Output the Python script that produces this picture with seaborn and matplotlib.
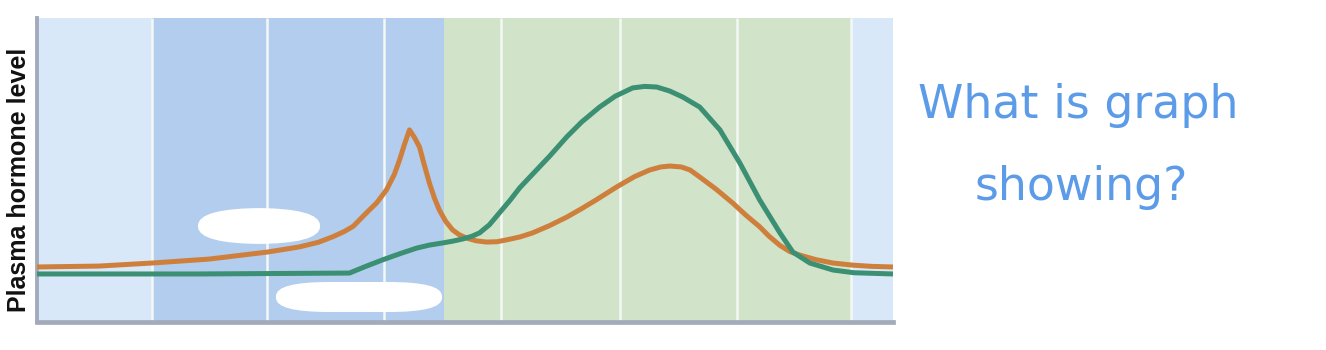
import matplotlib
matplotlib.use("Agg")
import matplotlib.pyplot as plt
from matplotlib.patches import FancyBboxPatch
import seaborn as sns
import pandas as pd

# ---- data ----
# x: day of cycle, y: relative plasma level (0-100)
estrogen_day = [0.0, 2.12, 3.93, 5.88, 7.86, 8.96, 9.6, 10.09, 10.5, 10.8, 11.25, 11.6, 11.93,
                12.2, 12.38, 12.55, 12.72, 12.9, 13.06, 13.23, 13.40, 13.57, 13.74, 13.95,
                14.19, 14.42, 14.67, 15.0, 15.35, 15.7, 16.03, 16.5, 16.92, 17.5, 18.09,
                18.6, 19.1, 19.79, 20.4, 20.92, 21.3, 21.61, 22.0, 22.3, 22.63, 23.2, 23.76,
                24.2, 24.68, 25.0, 25.37, 25.7, 26.05, 26.6, 27.18, 27.86, 28.5, 29.23]
estrogen_lvl = [18.1, 18.4, 19.4, 20.7, 23.0, 24.7, 26.2, 28.0, 29.8, 31.5, 35.9, 39.2, 43.4,
                48.5, 53.3, 58.5, 63.2, 60.5, 57.6, 51.5, 45.7, 40.8, 36.8, 33.2,
                30.3, 28.7, 27.6, 26.7, 26.3, 26.4, 27.0, 28.0, 29.3, 31.7, 34.5,
                37.3, 40.2, 44.4, 47.8, 50.0, 51.0, 51.3, 51.0, 50.0, 47.7, 43.6, 39.1,
                35.2, 31.3, 28.2, 25.2, 23.2, 22.0, 20.5, 19.4, 18.7, 18.3, 18.1]

progesterone_day = [0.0, 5.54, 10.67, 11.2, 11.79, 12.4, 12.96, 13.4, 13.85, 14.2, 14.53,
                    14.85, 15.11, 15.45, 15.79, 16.15, 16.48, 16.92, 17.5, 18.09, 18.6,
                    19.21, 19.75, 20.34, 20.75, 21.16, 21.6, 22.05, 22.63, 23.32, 24.0,
                    24.68, 25.37, 25.81, 26.39, 27.18, 27.9, 29.23]
progesterone_lvl = [15.8, 15.8, 16.1, 18.2, 20.4, 22.5, 24.3, 25.3, 26.0, 26.6, 27.3,
                    28.2, 29.3, 32.0, 35.9, 40.0, 44.1, 48.6, 54.5, 60.9, 65.8,
                    70.7, 74.3, 77.0, 77.5, 77.3, 76.0, 74.0, 70.7, 63.2, 52.3,
                    40.1, 29.3, 23.0, 19.4, 17.1, 16.2, 15.8]

band_edges = [0.0, 3.93, 13.9, 27.8, 29.23]
band_colors = ["#d9e8f8", "#b2cded", "#d1e3c9", "#d9e8f8"]
grid_days = [3.93, 7.86, 11.86, 15.86, 19.9, 23.9, 27.8]

y_label = "Plasma hormone level"
note_line1 = "What is graph"
note_line2 = "showing?"

# ---- figure ----
sns.set_theme(style="white")
plt.rcParams["font.family"] = ["Liberation Sans", "DejaVu Sans"]

fig = plt.figure(figsize=(13.26, 3.5), dpi=100)
ax = fig.add_axes([37 / 1326, 1 - 322 / 350, (893 - 37) / 1326, (322 - 18) / 350])

for i in range(len(band_colors)):
    ax.axvspan(band_edges[i], band_edges[i + 1], color=band_colors[i], lw=0, zorder=0)
for d in grid_days:
    ax.axvline(d, color="#f4f8f4", lw=1.8, zorder=1)

df_e = pd.DataFrame({"day": estrogen_day, "level": estrogen_lvl})
df_p = pd.DataFrame({"day": progesterone_day, "level": progesterone_lvl})
sns.lineplot(data=df_e, x="day", y="level", ax=ax, color="#cf7f3c", lw=3.6,
             sort=False, estimator=None, zorder=3)
sns.lineplot(data=df_p, x="day", y="level", ax=ax, color="#3b8f72", lw=3.6,
             sort=False, estimator=None, zorder=4)
for ln in ax.lines:
    ln.set_solid_joinstyle("round")
    ln.set_solid_capstyle("butt")

ax.set_xlim(band_edges[0], band_edges[-1])
ax.set_ylim(0, 100)
ax.set_xticks([])
ax.set_yticks([])
ax.set_xlabel("")
ax.set_ylabel(y_label, fontsize=18, fontweight="bold", color="#111111")
ax.yaxis.set_label_coords(-6 / 856, (322 - 180) / 304)
for s in ["top", "right"]:
    ax.spines[s].set_visible(False)
ax.spines["left"].set_color("#a3abbb")
ax.spines["left"].set_linewidth(2.8)
ax.spines["bottom"].set_color("#a3abbb")
ax.spines["bottom"].set_linewidth(3.4)

# white redaction blobs
fig.patches.append(FancyBboxPatch((198 / 1326, 1 - 244 / 350), 122 / 1326, 36 / 350,
                                  boxstyle="round,pad=0,rounding_size=0.05",
                                  transform=fig.transFigure, fc="white", ec="none",
                                  zorder=10, mutation_aspect=350 / 1326 * 3.8))
fig.patches.append(FancyBboxPatch((276 / 1326, 1 - 312 / 350), 166 / 1326, 30 / 350,
                                  boxstyle="round,pad=0,rounding_size=0.04",
                                  transform=fig.transFigure, fc="white", ec="none",
                                  zorder=10, mutation_aspect=350 / 1326 * 3.8))

# handwritten note
fig.text(918 / 1326, 1 - 118 / 350, note_line1, fontsize=33, color="#5b9be8",
         family=["DejaVu Sans"], fontweight="normal", va="baseline")
fig.text(975 / 1326, 1 - 200 / 350, note_line2, fontsize=33, color="#5b9be8",
         family=["DejaVu Sans"], fontweight="normal", va="baseline")

fig.savefig("out.png", dpi=100, facecolor="white")
